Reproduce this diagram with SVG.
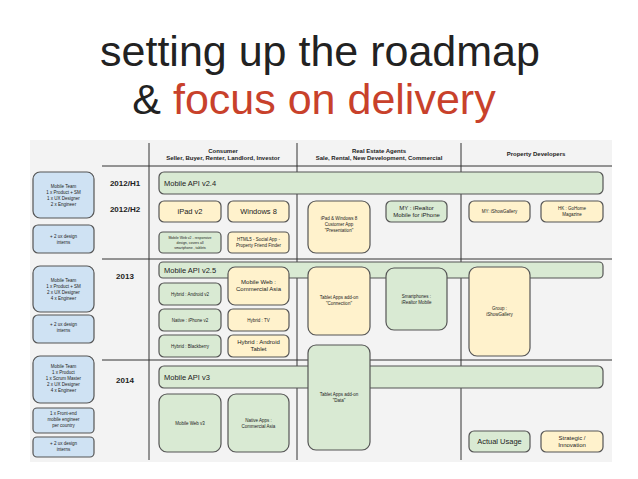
<svg xmlns="http://www.w3.org/2000/svg" width="638" height="479" viewBox="0 0 638 479">
<style>
text{font-family:"Liberation Sans",Arial,sans-serif;text-anchor:middle;fill:#222}
.t{font-size:43px}
.g rect{fill:#d9ead3;stroke:#555;stroke-width:1.2}
.y rect{fill:#fff2cc;stroke:#555;stroke-width:1.2}
.b rect{fill:#cfe2f3;stroke:#555;stroke-width:1.2}
.s{font-size:4.5px}
.m{font-size:6px}
.l{font-size:7.5px}
.h{font-size:6px;font-weight:bold}
.yr{font-size:8px;font-weight:bold}
.ln{stroke:#333;stroke-width:1}
</style>
<rect width="638" height="479" fill="#fff"/>
<text class="t" x="320" y="66">setting up the roadmap</text>
<text class="t" x="314" y="114">&amp; <tspan fill="#c8412b">focus on delivery</tspan></text>
<rect x="30" y="140" width="582" height="322" fill="#f3f3f3"/>
<g id="grid">
<line class="ln" x1="149" y1="143" x2="149" y2="460"/>
<line class="ln" x1="297" y1="143" x2="297" y2="460"/>
<line class="ln" x1="461" y1="143" x2="461" y2="460"/>
<line class="ln" x1="102" y1="166" x2="612" y2="166"/>
<line class="ln" x1="102" y1="259" x2="612" y2="259"/>
<line class="ln" x1="102" y1="360" x2="612" y2="360"/>
</g>
<g id="headers">
<text class="h" x="223" y="153">Consumer</text>
<text class="h" x="223" y="160">Seller, Buyer, Renter, Landlord, Investor</text>
<text class="h" x="379" y="153">Real Estate Agents</text>
<text class="h" x="379" y="160">Sale, Rental, New Development, Commercial</text>
<text class="h" x="536" y="156">Property Developers</text>
<text class="yr" x="125" y="186">2012/H1</text>
<text class="yr" x="125" y="212">2012/H2</text>
<text class="yr" x="125" y="279">2013</text>
<text class="yr" x="125" y="383">2014</text>
</g>
<g id="team1" class="b"><rect x="33" y="172" width="61" height="46" rx="7"/><text class="s" x="63.5" y="188">Mobile Team</text><text class="s" x="63.5" y="194">1 x Product + SM</text><text class="s" x="63.5" y="200">1 x UX Designer</text><text class="s" x="63.5" y="206">2 x Engineer</text></g>
<g id="team2" class="b"><rect x="33" y="225" width="61" height="28" rx="5"/><text class="s" x="63.5" y="238">+ 2 ux design</text><text class="s" x="63.5" y="244">interns</text></g>
<g id="team3" class="b"><rect x="33" y="266" width="61" height="46" rx="7"/><text class="s" x="63.5" y="282">Mobile Team</text><text class="s" x="63.5" y="288">1 x Product + SM</text><text class="s" x="63.5" y="294">2 x UX Designer</text><text class="s" x="63.5" y="300">4 x Engineer</text></g>
<g id="team4" class="b"><rect x="33" y="315" width="61" height="28" rx="5"/><text class="s" x="63.5" y="326">+ 2 ux design</text><text class="s" x="63.5" y="332">interns</text></g>
<g id="team5" class="b"><rect x="33" y="356" width="61" height="47" rx="7"/><text class="s" x="63.5" y="368">Mobile Team</text><text class="s" x="63.5" y="374">1 x Product</text><text class="s" x="63.5" y="380">1 x Scrum Master</text><text class="s" x="63.5" y="386">2 x UX Designer</text><text class="s" x="63.5" y="392">4 x Engineer</text></g>
<g id="team6" class="b"><rect x="33" y="408" width="61" height="25" rx="4"/><text class="s" x="63.5" y="415">1 x Front-end</text><text class="s" x="63.5" y="421">mobile engineer</text><text class="s" x="63.5" y="427">per country</text></g>
<g id="team7" class="b"><rect x="33" y="437" width="61" height="20" rx="4"/><text class="s" x="63.5" y="445">+ 2 ux design</text><text class="s" x="63.5" y="451">interns</text></g>
<g id="api24" class="g"><rect x="159" y="172" width="444" height="22" rx="5"/><text class="l" x="164" y="186" style="text-anchor:start">Mobile API v2.4</text></g>
<g id="ipadv2" class="y"><rect x="159" y="201" width="62" height="21" rx="5"/><text class="l" x="190" y="214">iPad v2</text></g>
<g id="win8" class="y"><rect x="228" y="201" width="61" height="21" rx="5"/><text class="l" x="258.5" y="214">Windows 8</text></g>
<g id="mwv2" class="g"><rect x="159" y="232" width="62" height="21" rx="4"/><text style="font-size:3.5px" x="190" y="239">Mobile Web v2 - responsive</text><text style="font-size:3.5px" x="190" y="244">design, covers all</text><text style="font-size:3.5px" x="190" y="249">smartphone , tablets</text></g>
<g id="html5" class="y"><rect x="228" y="232" width="61" height="21" rx="4"/><text class="s" x="258.5" y="241">HTML5 - Social App -</text><text class="s" x="258.5" y="247">Property Friend Finder</text></g>
<g id="ipadwin" class="y"><rect x="308" y="201" width="62" height="52" rx="8"/><text class="s" x="339" y="220">iPad &amp; Windows 8</text><text class="s" x="339" y="226">Customer App</text><text class="s" x="339" y="232">"Presentation"</text></g>
<g id="myirealtor" class="g"><rect x="386" y="201" width="61" height="21" rx="5"/><text class="m" x="416.5" y="210">MY : iRealtor</text><text class="m" x="416.5" y="217">Mobile for iPhone</text></g>
<g id="myishow" class="y"><rect x="469" y="201" width="61" height="21" rx="5"/><text class="s" x="499.5" y="213">MY: iShowGallery</text></g>
<g id="hkgohome" class="y"><rect x="541" y="201" width="62" height="21" rx="5"/><text class="s" x="572" y="210">HK : GoHome</text><text class="s" x="572" y="216">Magazine</text></g>
<g id="api25" class="g"><rect x="159" y="262" width="444" height="16" rx="4"/><text class="l" x="164" y="273" style="text-anchor:start">Mobile API v2.5</text></g>
<g id="mwca" class="y"><rect x="228" y="267" width="61" height="38" rx="7"/><text class="m" x="258.5" y="284">Mobile Web :</text><text class="m" x="258.5" y="291">Commercial Asia</text></g>
<g id="tabconn" class="y"><rect x="308" y="267" width="62" height="68" rx="8"/><text class="s" x="339" y="299">Tablet Apps add-on</text><text class="s" x="339" y="305">"Connection"</text></g>
<g id="smart" class="g"><rect x="386" y="268" width="61" height="62" rx="8"/><text class="s" x="416.5" y="298">Smartphones :</text><text class="s" x="416.5" y="304">iRealtor Mobile</text></g>
<g id="group" class="y"><rect x="469" y="267" width="61" height="89" rx="8"/><text class="s" x="499.5" y="310">Group :</text><text class="s" x="499.5" y="316">iShowGallery</text></g>
<g id="hav2" class="g"><rect x="159" y="283" width="62" height="22" rx="5"/><text class="s" x="190" y="296">Hybrid : Android v2</text></g>
<g id="niph" class="g"><rect x="159" y="309" width="62" height="22" rx="5"/><text class="s" x="190" y="322">Native : iPhone v2</text></g>
<g id="htv" class="y"><rect x="228" y="309" width="61" height="22" rx="5"/><text class="s" x="258.5" y="322">Hybrid : TV</text></g>
<g id="hbb" class="g"><rect x="159" y="335" width="62" height="22" rx="5"/><text class="s" x="190" y="348">Hybrid : Blackberry</text></g>
<g id="hat" class="y"><rect x="228" y="335" width="61" height="22" rx="5"/><text class="m" x="258.5" y="344">Hybrid : Android</text><text class="m" x="258.5" y="351">Tablet</text></g>
<g id="api3" class="g"><rect x="159" y="366" width="444" height="22" rx="5"/><text class="l" x="164" y="380" style="text-anchor:start">Mobile API v3</text></g>
<g id="tabdata" class="g"><rect x="308" y="345" width="62" height="105" rx="8"/><text class="s" x="339" y="396">Tablet Apps add-on</text><text class="s" x="339" y="402">"Data"</text></g>
<g id="mwv3" class="g"><rect x="159" y="394" width="62" height="58" rx="8"/><text class="s" x="190" y="425">Mobile Web v3</text></g>
<g id="naca" class="g"><rect x="228" y="394" width="61" height="58" rx="8"/><text class="s" x="258.5" y="422">Native Apps :</text><text class="s" x="258.5" y="428">Commercial Asia</text></g>
<g id="actual" class="g"><rect x="469" y="431" width="61" height="21" rx="5"/><text class="l" x="499.5" y="444">Actual Usage</text></g>
<g id="strategic" class="y"><rect x="541" y="431" width="62" height="21" rx="5"/><text class="m" x="572" y="440">Strategic /</text><text class="m" x="572" y="447">Innovation</text></g>
<g id="connectors"/>
</svg>
